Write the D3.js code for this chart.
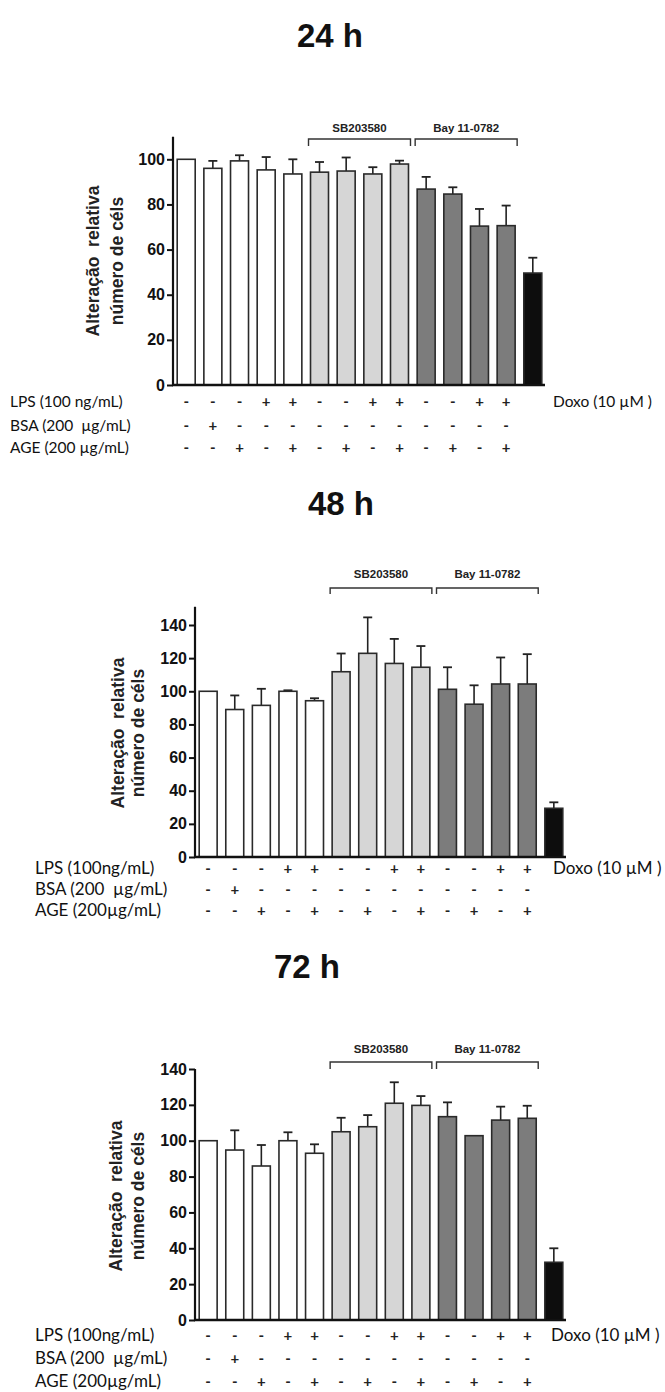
<!DOCTYPE html>
<html>
<head>
<meta charset="utf-8">
<script src="https://cdn.jsdelivr.net/npm/d3@7"></script>
<style>
  html, body { margin: 0; padding: 0; background: #fff; }
  svg { display: block; }
</style>
</head>
<body>
<svg id="chart" width="665" height="1392"></svg>
<script>
// ---------------- DATA ----------------
const categories = ["Controle", "BSA", "AGE", "LPS", "LPS+AGE",
  "SB", "SB+AGE", "SB+LPS", "SB+LPS+AGE",
  "Bay", "Bay+AGE", "Bay+LPS", "Bay+LPS+AGE", "Doxo"];
const groupOf = ["none", "none", "none", "none", "none",
  "SB", "SB", "SB", "SB", "Bay", "Bay", "Bay", "Bay", "Doxo"];

const titles = ["24 h", "48 h", "72 h"];

const values24 = [100, 96, 99.3, 95.3, 93.5, 94.3, 94.8, 93.5, 97.9, 86.8, 84.6, 70.4, 70.6, 49.6];
const errors24 = [0, 3.3, 2.5, 5.7, 6.5, 4.5, 6, 3, 1.5, 5.4, 3, 7.6, 8.9, 6.8];

const values48 = [100, 89, 91.5, 100, 94.3, 111.8, 122.9, 116.8, 114.5, 101.2, 92.2, 104.4, 104.4, 29.4];
const errors48 = [0, 8.5, 10, 0.6, 1.5, 11, 21.7, 14.8, 12.8, 13.3, 11.4, 16, 18, 3.6];

const values72 = [100, 94.8, 85.9, 100, 93, 105, 107.8, 120.9, 119.7, 113.4, 102.8, 111.5, 112.5, 32.2];
const errors72 = [0, 11, 11.7, 4.7, 5, 7.8, 6.5, 11.7, 5.2, 8, 0, 7.5, 7, 7.8];

const ticks24 = [0, 20, 40, 60, 80, 100];
const ticks48 = [0, 20, 40, 60, 80, 100, 120, 140];
const ticks72 = [0, 20, 40, 60, 80, 100, 120, 140];

const rowLabels24 = ["LPS (100 ng/mL)", "BSA (200  µg/mL)", "AGE (200 µg/mL)"];
const rowLabels = ["LPS (100ng/mL)", "BSA (200  µg/mL)", "AGE (200µg/mL)"];
const lpsRow = ["-", "-", "-", "+", "+", "-", "-", "+", "+", "-", "-", "+", "+"];
const bsaRow = ["-", "+", "-", "-", "-", "-", "-", "-", "-", "-", "-", "-", "-"];
const ageRow = ["-", "-", "+", "-", "+", "-", "+", "-", "+", "-", "+", "-", "+"];
const doxoLabel = "Doxo (10 µM )";

const bracketNames = ["SB203580", "Bay 11-0782"];
const bracketGroups = ["SB", "Bay"];

const yLabelLines = ["Alteração  relativa", "número de céls"];

// ---------------- STYLE / LAYOUT ----------------
const fillFor = { none: "#ffffff", SB: "#d6d6d6", Bay: "#7c7c7c", Doxo: "#0d0d0d" };

const panels = [
  { title: titles[0], values: values24, errors: errors24, ticks: ticks24, labels: rowLabels24,
    titleX: 330, titleY: 47,
    axisX: 173, xEnd: 545, y0: 385, yRef: 159.3, refVal: 100, axisTopVal: 110,
    yl1: 99, yl2: 123, ylMid: 261,
    bracketY: 139, bracketTip: 7, bracketLabelY: 132,
    rowLabelX: 10, rowY: [407, 431, 453], rowFont: 15.5, doxoX: 553 },
  { title: titles[1], values: values48, errors: errors48, ticks: ticks48, labels: rowLabels,
    titleX: 341, titleY: 515,
    axisX: 195, xEnd: 566, y0: 857, yRef: 625, refVal: 140, axisTopVal: 151,
    yl1: 124, yl2: 144, ylMid: 733,
    bracketY: 588, bracketTip: 6, bracketLabelY: 578,
    rowLabelX: 35, rowY: [874, 895, 916], rowFont: 17, doxoX: 553 },
  { title: titles[2], values: values72, errors: errors72, ticks: ticks72, labels: rowLabels,
    titleX: 307, titleY: 978,
    axisX: 195, xEnd: 566, y0: 1320, yRef: 1069, refVal: 140, axisTopVal: 140,
    yl1: 122, yl2: 144, ylMid: 1196,
    bracketY: 1062, bracketTip: 7, bracketLabelY: 1053,
    rowLabelX: 35, rowY: [1341, 1364, 1387], rowFont: 17, doxoX: 551 }
];

const svg = d3.select("#chart");

panels.forEach(p => {
  const g = svg.append("g");

  const y = d3.scaleLinear().domain([0, p.refVal]).range([p.y0, p.yRef]);
  const x = d3.scaleBand().domain(d3.range(categories.length))
    .range([p.axisX + 1, p.xEnd]).paddingInner(0.325).paddingOuter(0.12);

  // Title
  g.append("text").attr("x", p.titleX).attr("y", p.titleY)
    .attr("text-anchor", "middle")
    .attr("font-family", "Liberation Sans, Arial, sans-serif")
    .attr("font-weight", "bold").attr("font-size", 33)
    .attr("fill", "#111").text(p.title);

  const data = categories.map((c, i) => ({ c, i, v: p.values[i], e: p.errors[i], grp: groupOf[i] }));

  // error bars (upper only)
  const eb = g.append("g");
  data.filter(d => d.e > 0).forEach(d => {
    const cx = x(d.i) + x.bandwidth() / 2;
    eb.append("line").attr("x1", cx).attr("x2", cx)
      .attr("y1", y(d.v)).attr("y2", y(d.v + d.e))
      .attr("stroke", "#222").attr("stroke-width", 1.6);
    eb.append("line").attr("x1", cx - 4.5).attr("x2", cx + 4.5)
      .attr("y1", y(d.v + d.e)).attr("y2", y(d.v + d.e))
      .attr("stroke", "#222").attr("stroke-width", 1.8);
  });

  g.append("g").selectAll("rect").data(data).join("rect")
    .attr("x", d => x(d.i))
    .attr("y", d => y(d.v))
    .attr("width", x.bandwidth())
    .attr("height", d => y(0) - y(d.v))
    .attr("fill", d => fillFor[d.grp])
    .attr("stroke", "#2a2a2a").attr("stroke-width", 1.6);

  // Y axis
  const yAxis = d3.axisLeft(y).tickValues(p.ticks).tickSize(6).tickPadding(2).tickFormat(d3.format("d"));
  const ya = g.append("g").attr("transform", `translate(${p.axisX},0)`).call(yAxis);
  ya.select(".domain").remove();
  ya.append("line").attr("x1", 0).attr("x2", 0)
    .attr("y1", y(0)).attr("y2", y(p.axisTopVal))
    .attr("stroke", "#111").attr("stroke-width", 2.2);
  ya.selectAll(".tick line").attr("stroke", "#111").attr("stroke-width", 2);
  ya.selectAll(".tick text")
    .attr("font-family", "Liberation Sans, Arial, sans-serif")
    .attr("font-weight", "bold").attr("font-size", 16)
    .attr("fill", "#111");

  // baseline
  g.append("line").attr("x1", p.axisX - 1).attr("x2", p.xEnd)
    .attr("y1", y(0)).attr("y2", y(0))
    .attr("stroke", "#111").attr("stroke-width", 2.6);

  // Y label
  [p.yl1, p.yl2].forEach((lx, k) => {
    g.append("text")
      .attr("transform", `translate(${lx},${p.ylMid}) rotate(-90)`)
      .attr("text-anchor", "middle")
      .attr("font-family", "Liberation Sans, Arial, sans-serif")
      .attr("font-weight", "bold").attr("font-size", 17.5)
      .attr("fill", "#222")
      .attr("xml:space", "preserve")
      .style("white-space", "pre")
      .text(yLabelLines[k]);
  });

  // Brackets
  bracketGroups.forEach((grp, k) => {
    const idx = data.filter(d => d.grp === grp).map(d => d.i);
    const xl = x(d3.min(idx)) - 2;
    const xr = x(d3.max(idx)) + x.bandwidth() + 2;
    g.append("path")
      .attr("d", `M${xl},${p.bracketY + p.bracketTip}V${p.bracketY}H${xr}V${p.bracketY + p.bracketTip}`)
      .attr("fill", "none").attr("stroke", "#333").attr("stroke-width", 1.4);
    g.append("text").attr("x", (xl + xr) / 2).attr("y", p.bracketLabelY)
      .attr("text-anchor", "middle")
      .attr("font-family", "Liberation Sans, Arial, sans-serif")
      .attr("font-weight", "bold").attr("font-size", 11.5)
      .attr("fill", "#222").text(bracketNames[k]);
  });

  // Treatment rows
  const rows = [lpsRow, bsaRow, ageRow];
  rows.forEach((row, r) => {
    g.append("text").attr("x", p.rowLabelX).attr("y", p.rowY[r])
      .attr("font-family", "Lato, 'Open Sans', sans-serif")
      .attr("font-size", p.rowFont).attr("fill", "#111")
      .attr("xml:space", "preserve").style("white-space", "pre")
      .text(p.labels[r]);
    g.append("g").selectAll("text").data(row).join("text")
      .attr("x", (d, i) => x(i) + x.bandwidth() / 2)
      .attr("y", p.rowY[r])
      .attr("text-anchor", "middle")
      .attr("font-family", "Lato, 'Open Sans', sans-serif")
      .attr("font-weight", "bold")
      .attr("font-size", 15).attr("fill", "#222")
      .text(d => d);
  });
  g.append("text").attr("x", p.doxoX).attr("y", p.rowY[0])
    .attr("font-family", "Lato, 'Open Sans', sans-serif")
    .attr("font-size", p.rowFont).attr("fill", "#111")
    .text(doxoLabel);
});
</script>
</body>
</html>
